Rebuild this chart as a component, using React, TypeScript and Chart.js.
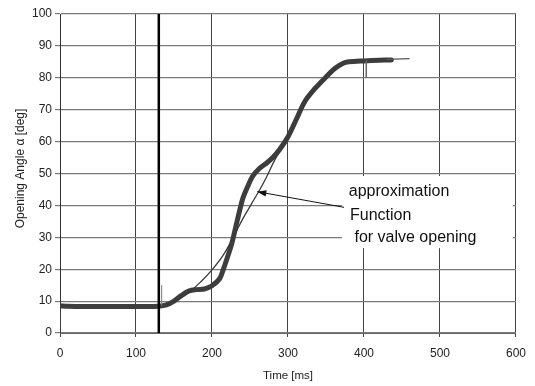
import React, { useEffect, useRef } from "react";
import { Chart, registerables } from "chart.js";

Chart.register(...registerables);

// Measured opening angle of the valve over time
const measuredTime = [0, 10, 30, 50, 70, 90, 110, 130, 140, 150, 160, 170, 180, 190, 200, 210, 215, 220, 226, 232, 237, 241, 248, 254, 262, 272, 280, 289, 300, 311, 322, 335, 351, 362, 372, 380, 400, 420, 436];
const measuredAngle = [8.5, 8.4, 8.3, 8.3, 8.3, 8.3, 8.3, 8.4, 8.8, 10, 11.8, 13.2, 13.6, 13.8, 14.8, 17, 20, 23.5, 28, 34, 39, 42.5, 46.5, 49.3, 51.5, 53.3, 55, 57.5, 61.5, 67, 72.5, 76.5, 80.5, 83, 84.5, 85, 85.3, 85.5, 85.6];

// Vertical rise of the trace at t = 0
const riseTime = [0, 0];
const riseAngle = [0, 8.5];

// Thin trailing part of the measurement
const tailTime = [430, 460];
const tailAngle = [85.8, 86];

// Short spike in the measurement near 400 ms
const spikeTime = [403, 403];
const spikeAngle = [85.5, 80];

// Approximation function for the valve opening
const approxTime = [140, 155, 170, 185, 200, 215, 228, 241, 252, 263, 272, 281, 290, 300, 311, 322, 335, 351, 365];
const approxAngle = [9.0, 10.5, 12.8, 16, 19.8, 24.5, 30, 36, 40.5, 45, 49, 53.5, 57.3, 61.3, 66.8, 72.3, 76.4, 80.4, 83.5];

// Start marker of the opening
const startTime = [130, 130];
const startAngle = [0, 100];

// Trigger mark
const triggerTime = [133.8, 133.8];
const triggerAngle = [8.5, 15];

const xTicks = [0, 100, 200, 300, 400, 500, 600];
const yTicks = [0, 10, 20, 30, 40, 50, 60, 70, 80, 90, 100];

const labelLines = ["approximation", "Function", " for valve opening"];

const FONT = "'Liberation Sans', Arial, sans-serif";

const toPoints = (xs: number[], ys: number[]) => xs.map((x, i) => ({ x, y: ys[i] }));

const annotationPlugin = {
  id: "valveAnnotation",
  beforeDatasetsDraw(chart: any) {
    const { ctx, scales } = chart;
    const x = scales.x;
    const y = scales.y;
    // white label box over the grid
    const x0 = x.getPixelForValue(371);
    const x1 = x.getPixelForValue(596);
    const y0 = y.getPixelForValue(49.2);
    const y1 = y.getPixelForValue(26.6);
    ctx.save();
    ctx.fillStyle = "#ffffff";
    ctx.fillRect(x0, y0, x1 - x0, y1 - y0);
    ctx.restore();
  },
  afterDatasetsDraw(chart: any) {
    const { ctx, scales, chartArea } = chart;
    const x = scales.x;
    const y = scales.y;
    ctx.save();
    // label text
    ctx.fillStyle = "#111111";
    ctx.font = `16px ${FONT}`;
    ctx.textAlign = "left";
    ctx.textBaseline = "alphabetic";
    const lx = [380, 381.6, 381.6];
    const ly = [42.9, 35.4, 28.5];
    labelLines.forEach((t, i) => {
      ctx.fillText(t, x.getPixelForValue(lx[i]), y.getPixelForValue(ly[i]));
    });
    // arrow pointing at the approximation curve
    const tx = x.getPixelForValue(259.6);
    const ty = y.getPixelForValue(44.3);
    const ex = x.getPixelForValue(373.7);
    const ey = y.getPixelForValue(39.4);
    ctx.strokeStyle = "#111111";
    ctx.lineWidth = 1;
    ctx.beginPath();
    ctx.moveTo(ex, ey);
    ctx.lineTo(tx, ty);
    ctx.stroke();
    const ang = Math.atan2(ey - ty, ex - tx);
    const len = 9;
    const half = 3.2;
    const bx = tx + Math.cos(ang) * len;
    const by = ty + Math.sin(ang) * len;
    ctx.fillStyle = "#111111";
    ctx.beginPath();
    ctx.moveTo(tx, ty);
    ctx.lineTo(bx - Math.sin(ang) * half, by + Math.cos(ang) * half);
    ctx.lineTo(bx + Math.sin(ang) * half, by - Math.cos(ang) * half);
    ctx.closePath();
    ctx.fill();

    // axis titles
    ctx.fillStyle = "#222222";
    ctx.font = `11.5px ${FONT}`;
    ctx.textAlign = "center";
    ctx.textBaseline = "middle";
    ctx.fillText("Time [ms]", (chartArea.left + chartArea.right) / 2, 376);
    ctx.translate(20.5, (chartArea.top + chartArea.bottom) / 2 - 5);
    ctx.rotate(-Math.PI / 2);
    ctx.font = `12px ${FONT}`;
    ctx.fillText("Opening Angle \u03b1 [deg]", 0, 0);
    ctx.restore();
  },
};

export default function App() {
  const canvasRef = useRef<HTMLCanvasElement | null>(null);

  useEffect(() => {
    const canvas = canvasRef.current;
    if (!canvas) return;
    const chart = new Chart(canvas, {
      type: "scatter",
      data: {
        datasets: [
          {
            label: "measured",
            data: toPoints(measuredTime, measuredAngle),
            showLine: true,
            borderColor: "#3d3d3d",
            borderWidth: 5,
            pointRadius: 0,
            tension: 0.3,
            borderCapStyle: "round",
            borderJoinStyle: "round",
            order: 5,
          } as any,
          {
            label: "rise",
            data: toPoints(riseTime, riseAngle),
            showLine: true,
            borderColor: "#3d3d3d",
            borderWidth: 2,
            pointRadius: 0,
            order: 4,
          },
          {
            label: "tail",
            data: toPoints(tailTime, tailAngle),
            showLine: true,
            borderColor: "#555555",
            borderWidth: 1.2,
            pointRadius: 0,
            order: 4,
          },
          {
            label: "spike",
            data: toPoints(spikeTime, spikeAngle),
            showLine: true,
            borderColor: "#666666",
            borderWidth: 1.5,
            pointRadius: 0,
            order: 4,
          },
          {
            label: "approximation",
            data: toPoints(approxTime, approxAngle),
            showLine: true,
            borderColor: "#3a3a3a",
            borderWidth: 1.3,
            pointRadius: 0,
            tension: 0.4,
            order: 3,
          },
          {
            label: "opening start",
            data: toPoints(startTime, startAngle),
            showLine: true,
            borderColor: "#000000",
            borderWidth: 2.5,
            pointRadius: 0,
            order: 2,
          },
          {
            label: "trigger",
            data: toPoints(triggerTime, triggerAngle),
            showLine: true,
            borderColor: "#777777",
            borderWidth: 1,
            pointRadius: 0,
            order: 1,
          },
        ],
      },
      options: {
        responsive: false,
        animation: false,
        devicePixelRatio: 1,
        layout: { padding: { top: 14, right: 19, left: 0, bottom: 0 } },
        plugins: {
          legend: { display: false },
          tooltip: { enabled: false },
        },
        scales: {
          x: {
            type: "linear",
            min: 0,
            max: 600,
            afterFit: (s: any) => {
              s.height = 53;
            },
            afterBuildTicks: (s: any) => {
              s.ticks = xTicks.map((v) => ({ value: v }));
            },
            grid: {
              color: "#444444",
              lineWidth: 1,
              tickLength: 4,
              drawTicks: true,
            },
            border: { color: "#666666", width: 1 },
            ticks: {
              color: "#222222",
              font: { family: FONT, size: 12 },
              padding: 9,
              maxRotation: 0,
            },
          },
          y: {
            type: "linear",
            min: 0,
            max: 100,
            afterFit: (s: any) => {
              s.width = 60;
            },
            afterBuildTicks: (s: any) => {
              s.ticks = yTicks.map((v) => ({ value: v }));
            },
            grid: {
              color: "#7a7a7a",
              lineWidth: 1.2,
              tickLength: 5,
              drawTicks: true,
            },
            border: { color: "#333333", width: 1 },
            ticks: {
              color: "#222222",
              font: { family: FONT, size: 12 },
              padding: 3,
            },
          },
        },
      },
      plugins: [annotationPlugin],
    } as any);
    return () => chart.destroy();
  }, []);

  return (
    <div style={{ position: "absolute", left: 0, top: 0, width: 535, height: 386, background: "#ffffff" }}>
      <canvas ref={canvasRef} width={535} height={386} />
    </div>
  );
}
